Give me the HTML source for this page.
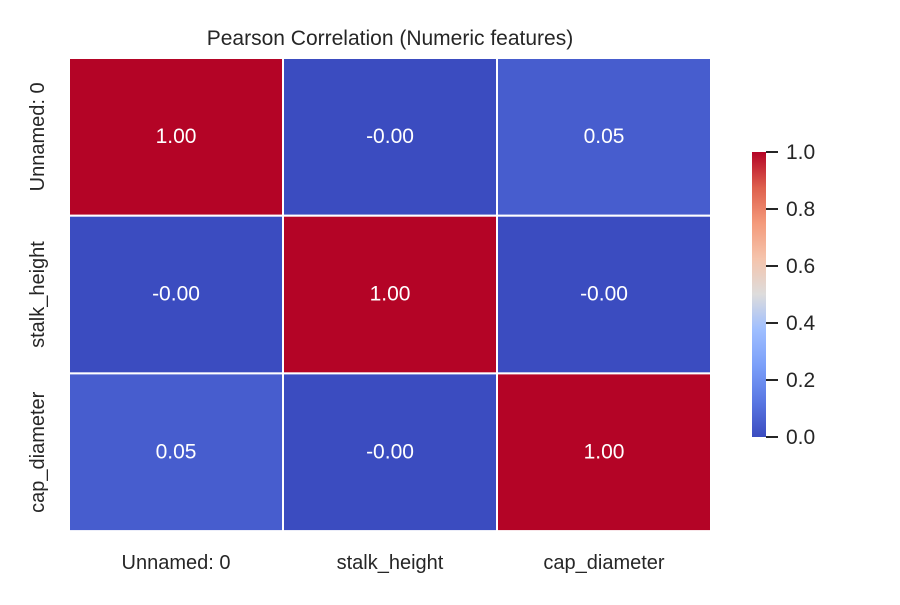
<!DOCTYPE html>
<html><head><meta charset="utf-8"><style>
body{margin:0;background:#fff;font-family:"Liberation Sans","DejaVu Sans",sans-serif}
svg text{font-family:"Liberation Sans","DejaVu Sans",sans-serif;fill:#262626}
</style></head><body>
<svg id="chart" width="900" height="600" xmlns="http://www.w3.org/2000/svg">
<defs>
<linearGradient id="cw" x1="0" y1="1" x2="0" y2="0">
<stop offset="0" stop-color="#3b4cc0"/><stop offset="0.125" stop-color="#5977e3"/>
<stop offset="0.25" stop-color="#7b9ff9"/><stop offset="0.375" stop-color="#9ebeff"/>
<stop offset="0.5" stop-color="#dddcdc"/><stop offset="0.625" stop-color="#f5c4ac"/>
<stop offset="0.75" stop-color="#f49a7b"/><stop offset="0.875" stop-color="#de604d"/>
<stop offset="1" stop-color="#b40426"/>
</linearGradient></defs>
<text x="390" y="45" text-anchor="middle" font-size="21">Pearson Correlation (Numeric features)</text>
<g id="cells"></g>
<rect x="752" y="152" width="14" height="285" fill="url(#cw)"/>
<g id="cbticks"></g>
</svg>
<script>
const labels = ["Unnamed: 0","stalk_height","cap_diameter"];
const values = [[1.00,-0.001,0.05],[-0.001,1.00,-0.001],[0.05,-0.001,1.00]];
const cbTicks = [0.0,0.2,0.4,0.6,0.8,1.0];
const X0=69,Y0=58,CW=214,CH=157.7;
const stops=[[0,[59,76,192]],[0.125,[89,119,227]],[0.25,[123,159,249]],[0.375,[158,190,255]],[0.5,[221,220,220]],[0.625,[245,196,172]],[0.75,[244,154,123]],[0.875,[222,96,77]],[1,[180,4,38]]];
function color(v){v=Math.max(0,Math.min(1,v));for(let i=1;i<stops.length;i++){if(v<=stops[i][0]){const a=stops[i-1],b=stops[i],t=(v-a[0])/(b[0]-a[0]);return 'rgb('+a[1].map((c,k)=>Math.round(c+(b[1][k]-c)*t)).join(',')+')';}}return 'rgb(180,4,38)';}
const NS="http://www.w3.org/2000/svg";const g=document.getElementById('cells');
values.forEach((row,r)=>row.forEach((v,c)=>{
 const rect=document.createElementNS(NS,'rect');
 rect.setAttribute('x',X0+c*CW);rect.setAttribute('y',Y0+r*CH);rect.setAttribute('width',CW);rect.setAttribute('height',CH);
 rect.setAttribute('fill',color(v));rect.setAttribute('stroke','#fff');rect.setAttribute('stroke-width','2');
 
 
 g.appendChild(rect);
 const t=document.createElementNS(NS,'text');
 t.setAttribute('x',X0+c*CW+CW/2);t.setAttribute('y',Y0+r*CH+CH/2+6);t.setAttribute('text-anchor','middle');t.setAttribute('font-size','21');t.setAttribute('style','fill:#fff');
 t.textContent=(v<0?'-':'')+Math.abs(v).toFixed(2);
 
 
 g.appendChild(t);
}));
labels.forEach((l,i)=>{
 const t=document.createElementNS(NS,'text');
 t.setAttribute('x',X0+i*CW+CW/2);t.setAttribute('y',569);t.setAttribute('text-anchor','middle');t.setAttribute('font-size','20');t.textContent=l;
 
 
 g.appendChild(t);
 const y=document.createElementNS(NS,'text');const cy=Y0+i*CH+CH/2;
 y.setAttribute('x',0);y.setAttribute('y',0);y.setAttribute('text-anchor','middle');y.setAttribute('font-size','20');
 y.setAttribute('transform','translate(44,'+cy+') rotate(-90)');y.textContent=l;
 
 
 g.appendChild(y);
});
const cb=document.getElementById('cbticks');
cbTicks.forEach(v=>{
 const y=437-v*285;
 const ln=document.createElementNS(NS,'line');
 ln.setAttribute('x1',766);ln.setAttribute('x2',778);ln.setAttribute('y1',y);ln.setAttribute('y2',y);ln.setAttribute('stroke','#262626');ln.setAttribute('stroke-width','2');
 
 
 cb.appendChild(ln);
 const t=document.createElementNS(NS,'text');
 t.setAttribute('x',786);t.setAttribute('y',y+7);t.setAttribute('font-size','21');t.textContent=v.toFixed(1);
 
 
 cb.appendChild(t);
});
</script>
</body></html>
